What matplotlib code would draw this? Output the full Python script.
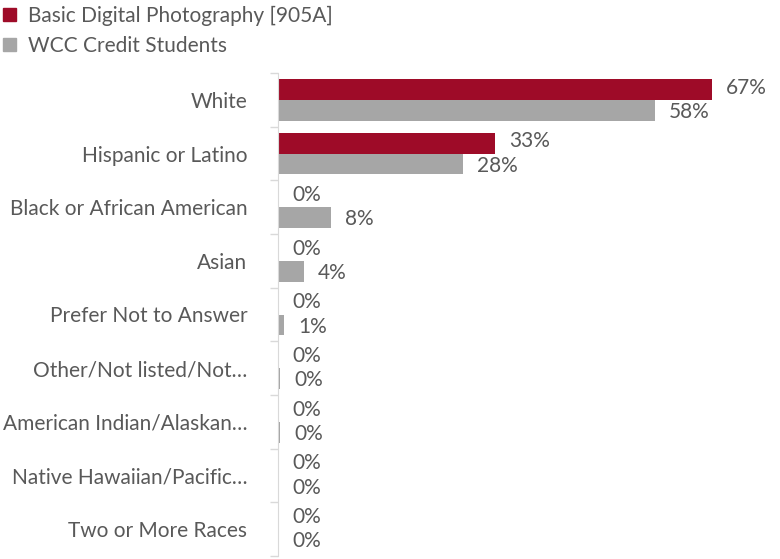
import numpy as np
import matplotlib.pyplot as plt
from matplotlib.patches import Patch

categories = ["White", "Hispanic or Latino", "Black or African American", "Asian",
              "Prefer Not to Answer", "Other/Not listed/Not…", "American Indian/Alaskan…",
              "Native Hawaiian/Pacific…", "Two or More Races"]
course_vals = [66.7, 33.3, 0, 0, 0, 0, 0, 0, 0]
wcc_vals = [57.9, 28.4, 8.1, 4.0, 0.9, 0.3, 0.3, 0.1, 0.0]
series_names = ["Basic Digital Photography [905A]", "WCC Credit Students"]

RED = "#9e0b28"
GRAY = "#a6a6a6"
TXT = "#595959"

plt.rcParams['font.family'] = ['Lato', 'DejaVu Sans']
FS = 15

fig = plt.figure(figsize=(7.8, 5.59), dpi=100)
W, H = 780, 559
ax = fig.add_axes([278 / W, 1 - 556 / H, (772 - 278) / W, (556 - 73) / H])

y = np.arange(len(categories))
h = 0.39
ax.barh(y - h / 2, course_vals, height=h, color=RED)
ax.barh(y + h / 2, wcc_vals, height=h, color=GRAY)

px = 1 / 6.51  # data units per pixel
for i in range(len(categories)):
    ax.text(course_vals[i] + 14 * px, y[i] - h / 2 - 0.03, f"{course_vals[i]:.0f}%",
            va="center", ha="left", fontsize=FS, color=TXT)
    ax.text(wcc_vals[i] + 14 * px, y[i] + h / 2 + 0.03, f"{wcc_vals[i]:.0f}%",
            va="center", ha="left", fontsize=FS, color=TXT)

ax.set_xlim(0, (772 - 278) * px)
ax.set_ylim(len(categories) - 0.5, -0.5)
ax.set_yticks(y)
ax.set_yticklabels(categories, fontsize=FS, color=TXT)
ax.tick_params(axis="y", which="major", length=0, pad=22)
ax.set_yticks(np.arange(len(categories) + 1) - 0.5, minor=True)
ax.tick_params(axis="y", which="minor", length=6, color="#d9d9d9", width=1)
ax.set_xticks([])
for s in ["top", "right", "bottom"]:
    ax.spines[s].set_visible(False)
ax.spines["left"].set_color("#d9d9d9")

handles = [Patch(color=RED), Patch(color=GRAY)]
fig.legend(handles, series_names, loc="upper left", bbox_to_anchor=(3 / W, 1 - 6 / H),
           frameon=False, fontsize=FS, labelcolor=TXT, handlelength=0.6,
           handleheight=0.6, handletextpad=0.6, labelspacing=0.45,
           borderpad=0, borderaxespad=0)

fig.savefig("out.png")
